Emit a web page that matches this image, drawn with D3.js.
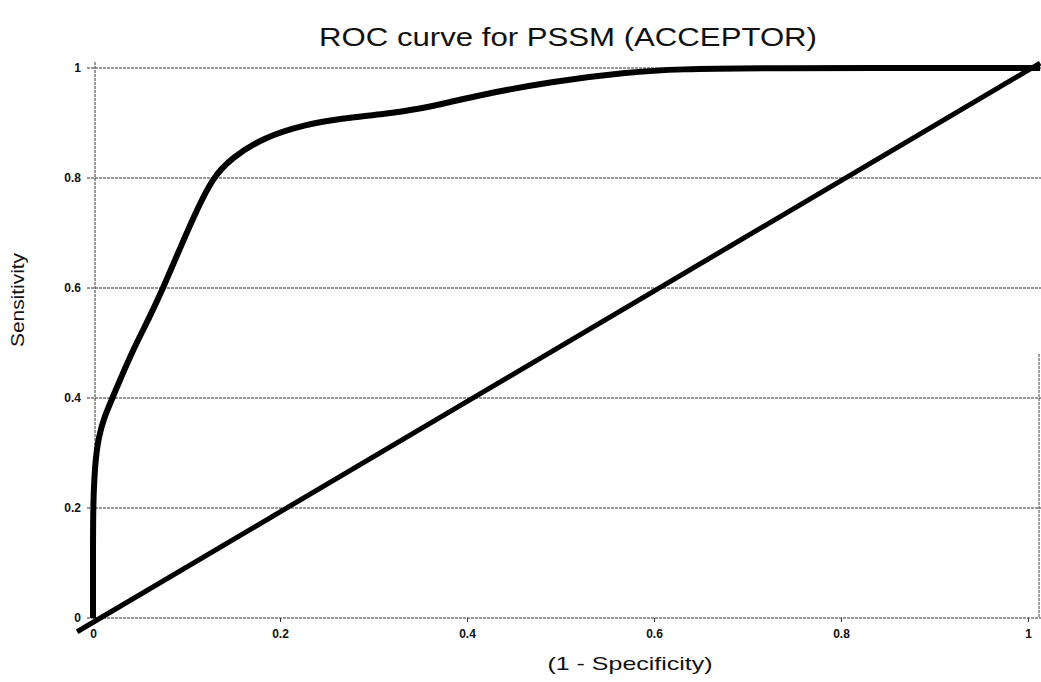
<!DOCTYPE html>
<html><head><meta charset="utf-8">
<script src="https://cdn.jsdelivr.net/npm/d3@7"></script>
<style>body{margin:0;background:#fff}svg{display:block}text{font-family:"Liberation Sans",Arial,sans-serif}</style>
</head><body><svg id="c" width="1041" height="682"></svg>
<script>
const rocX = [0, 0, 0, 0.002, 0.006, 0.012, 0.022, 0.040, 0.060, 0.075, 0.093, 0.111, 0.128, 0.147, 0.182, 0.229, 0.264, 0.314, 0.350, 0.382, 0.414, 0.489, 0.574, 0.630, 0.700, 1.0, 1.013];
const rocY = [0, 0.100, 0.200, 0.280, 0.330, 0.365, 0.405, 0.478, 0.545, 0.600, 0.672, 0.742, 0.800, 0.835, 0.874, 0.898, 0.908, 0.917, 0.926, 0.938, 0.951, 0.975, 0.993, 0.998, 1.0, 1.0, 1.0];
const diagX = [-0.017, 1.013];
const diagY = [-0.025, 1.009];
const xTicks = [0, 0.2, 0.4, 0.6, 0.8, 1];
const yTicks = [0, 0.2, 0.4, 0.6, 0.8, 1];
const xTickLabels = ["0", "0.2", "0.4", "0.6", "0.8", "1"];
const yTickLabels = ["0", "0.2", "0.4", "0.6", "0.8", "1"];
const title = "ROC curve for PSSM (ACCEPTOR)";
const xTitle = "(1 - Specificity)";
const yTitle = "Sensitivity";

const svg = d3.select("#c");
const x = d3.scaleLinear().domain([0, 1]).range([93, 1028]);
const y = d3.scaleLinear().domain([0, 1]).range([618, 68]);

// gridlines
svg.append("g").selectAll("line").data(yTicks).join("line")
  .attr("x1", x(0) - 6).attr("x2", 1041)
  .attr("y1", d => y(d)).attr("y2", d => y(d))
  .attr("stroke", "#333").attr("stroke-width", 1).attr("stroke-dasharray", "3,1");
// left axis (dotted)
svg.append("line").attr("x1", x(0) + 2).attr("x2", x(0) + 2).attr("y1", y(1) - 6).attr("y2", y(0) + 6)
  .attr("stroke", "#333").attr("stroke-width", 1).attr("stroke-dasharray", "3,1");
// right border (lower part)
svg.append("line").attr("x1", 1039).attr("x2", 1039).attr("y1", y(0.48)).attr("y2", y(0))
  .attr("stroke", "#444").attr("stroke-width", 1).attr("stroke-dasharray", "3,1");

// x axis ticks & labels
const xa = d3.axisBottom(x).tickValues(xTicks).tickSize(4).tickFormat((d, i) => xTickLabels[i]);
const gx = svg.append("g").attr("transform", `translate(0,${y(0)})`).call(xa);
gx.select(".domain").remove();
gx.selectAll(".tick line").attr("stroke", "#333");
gx.selectAll("text").attr("font-size", 12).attr("font-weight", "bold").attr("fill", "#111")
  .attr("font-family", "Liberation Sans, Arial, sans-serif").attr("dy", "0.95em").attr("y", 9);

const ya = d3.axisLeft(y).tickValues(yTicks).tickSize(0).tickFormat((d, i) => yTickLabels[i]);
const gy = svg.append("g").attr("transform", `translate(${x(0) - 12},0)`).call(ya);
gy.select(".domain").remove();
gy.selectAll("text").attr("font-size", 12).attr("font-weight", "bold").attr("fill", "#111")
  .attr("font-family", "Liberation Sans, Arial, sans-serif").attr("x", 0);

// diagonal
const diag = diagX.map((d, i) => [d, diagY[i]]);
svg.append("path").datum(diag)
  .attr("d", d3.line().x(d => x(d[0])).y(d => y(d[1])))
  .attr("stroke", "#000").attr("stroke-width", 5).attr("fill", "none");

// ROC curve
const roc = rocX.map((d, i) => [d, rocY[i]]);
svg.append("path").datum(roc)
  .attr("d", d3.line().x(d => x(d[0])).y(d => y(d[1])).curve(d3.curveBasis))
  .attr("stroke", "#000").attr("stroke-width", 6).attr("fill", "none").attr("stroke-linejoin", "round");

// titles
svg.append("text").attr("x", 568).attr("y", 46).attr("text-anchor", "middle")
  .attr("font-size", 25).attr("fill", "#111").attr("textLength", 498).attr("lengthAdjust", "spacingAndGlyphs").text(title);
svg.append("text").attr("x", 630).attr("y", 670).attr("text-anchor", "middle")
  .attr("font-size", 19).attr("fill", "#111").attr("textLength", 165).attr("lengthAdjust", "spacingAndGlyphs").text(xTitle);
svg.append("text").attr("transform", "translate(24,300) rotate(-90)").attr("text-anchor", "middle")
  .attr("font-size", 18).attr("fill", "#111").attr("textLength", 94).attr("lengthAdjust", "spacingAndGlyphs").text(yTitle);
</script></body></html>
